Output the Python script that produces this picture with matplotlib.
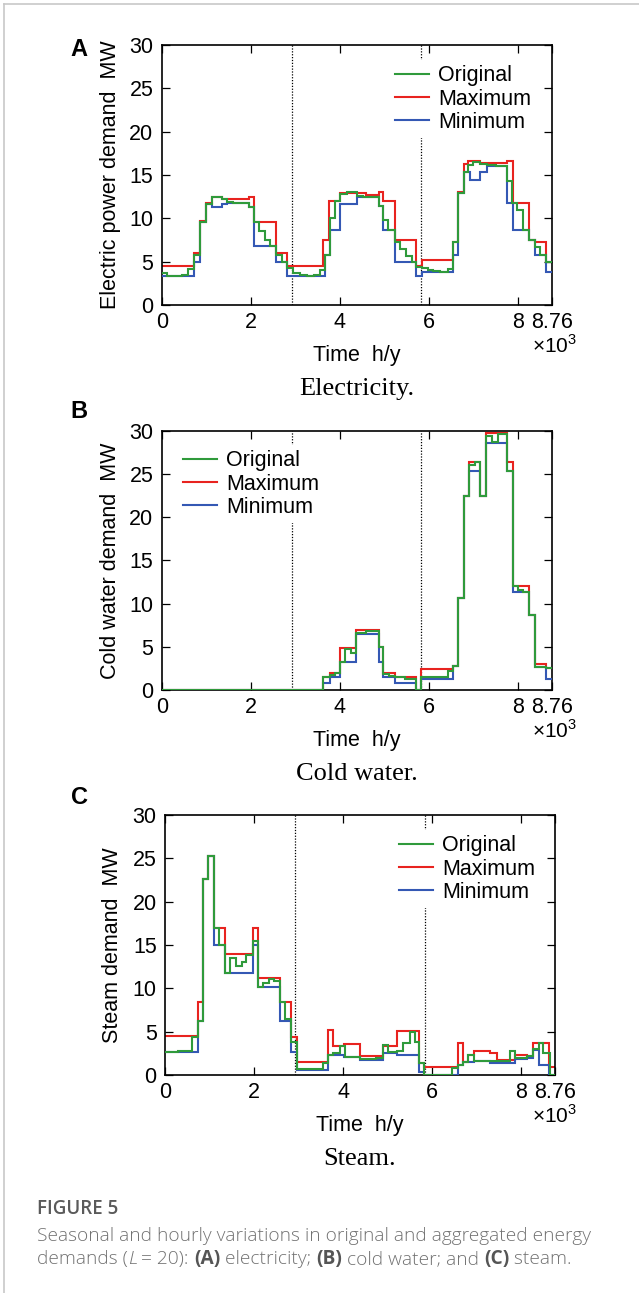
import matplotlib
matplotlib.use('Agg')
import matplotlib.pyplot as plt
from matplotlib.lines import Line2D

# time axis in thousands of hours, demand in MW
elec_orig_edges = [0, 0.11, 0.45, 0.60, 0.73, 0.86, 1.00, 1.12, 1.35, 1.46, 1.61, 1.95, 2.08, 2.19, 2.32,
                   2.43, 2.57, 2.70, 2.82, 2.96, 3.11, 3.26, 3.41, 3.56, 3.67, 3.78, 3.89, 4.01, 4.16, 4.38,
                   4.53, 4.87, 4.98, 5.09, 5.23, 5.35, 5.49, 5.62, 5.71, 5.84, 5.99, 6.10, 6.25, 6.44, 6.55,
                   6.66, 6.78, 6.89, 7.00, 7.15, 7.30, 7.52, 7.75, 7.86, 7.97, 8.12, 8.24, 8.39, 8.50, 8.63, 8.76]
elec_orig = [3.7, 3.4, 3.5, 4.2, 5.8, 9.6, 11.7, 12.5, 12.2, 11.9, 11.8, 11.3, 9.6, 8.5, 7.5,
             6.8, 5.8, 5.0, 4.3, 3.7, 3.5, 3.4, 3.5, 4.0, 5.8, 10.0, 12.0, 12.8, 13.0, 12.6,
             12.5, 11.4, 9.8, 8.7, 7.3, 6.5, 5.7, 5.0, 4.4, 4.3, 4.0, 3.9, 3.8, 4.2, 7.3,
             12.9, 15.3, 16.2, 16.5, 16.3, 16.2, 16.0, 14.3, 11.8, 11.0, 8.6, 7.5, 6.7, 5.8, 5.0]
elec_max_edges = [0, 0.73, 0.86, 1.00, 1.12, 1.35, 1.95, 2.08, 2.57, 2.82, 3.63, 3.76, 4.01, 4.60, 4.87,
                  4.98, 5.23, 5.71, 5.84, 6.55, 6.66, 6.78, 6.89, 7.15, 7.75, 7.90, 8.26, 8.39, 8.63, 8.76]
elec_max = [4.5, 6.0, 9.7, 11.8, 12.5, 12.2, 12.5, 9.6, 6.0, 4.5, 7.5, 12.0, 12.9, 12.7, 13.0,
            12.0, 7.5, 4.5, 5.2, 7.3, 13.0, 16.3, 16.6, 16.4, 16.6, 11.8, 7.5, 7.3, 5.0]
elec_min_edges = [0, 0.73, 0.86, 1.00, 1.12, 1.35, 1.46, 1.95, 2.08, 2.57, 2.82, 3.67, 3.78, 4.01, 4.38,
                  4.87, 4.98, 5.23, 5.71, 5.84, 6.55, 6.66, 6.78, 6.93, 7.15, 7.30, 7.75, 7.90, 8.26, 8.39,
                  8.63, 8.76]
elec_min = [3.3, 5.0, 9.6, 11.7, 11.3, 11.7, 11.8, 11.3, 6.8, 5.0, 3.3, 5.8, 8.7, 11.6, 12.5,
            11.4, 8.7, 5.0, 3.3, 3.8, 5.8, 12.9, 15.3, 14.4, 15.3, 16.0, 11.8, 8.6, 7.5, 5.8, 3.8]

cold_orig_edges = [0, 3.63, 3.78, 3.89, 4.01, 4.12, 4.25, 4.37, 4.60, 4.87, 4.98, 5.11, 5.23, 5.47, 5.71,
                   5.82, 6.44, 6.55, 6.66, 6.78, 6.91, 7.04, 7.15, 7.29, 7.41, 7.56, 7.76, 7.88, 8.01, 8.12,
                   8.26, 8.39, 8.63, 8.76]
cold_orig = [0, 1.5, 1.7, 2.0, 3.2, 4.7, 4.3, 6.6, 6.8, 5.0, 1.8, 1.6, 1.5, 1.3, 0,
             1.5, 2.2, 2.8, 10.7, 22.4, 26.0, 26.4, 22.4, 29.4, 28.7, 29.6, 25.3, 12.0, 11.6, 11.3,
             8.7, 2.7, 2.5]
cold_agg_edges = [0, 3.63, 3.78, 4.01, 4.37, 4.87, 4.98, 5.23, 5.71, 5.82, 6.55, 6.66, 6.78, 6.91, 7.15,
                  7.29, 7.76, 7.88, 8.26, 8.39, 8.63, 8.76]
cold_max = [0, 1.5, 2.0, 4.9, 6.9, 5.0, 2.0, 1.5, 0, 2.4, 2.8, 10.7, 22.4, 26.4, 22.4,
            29.7, 26.4, 12.0, 8.7, 3.0, 2.5]
cold_min = [0, 0.8, 1.5, 3.2, 6.5, 3.2, 1.5, 0.8, 0, 1.3, 2.8, 10.7, 22.4, 25.3, 22.4,
            28.6, 25.3, 11.3, 8.7, 2.7, 1.3]

steam_orig_edges = [0, 0.30, 0.60, 0.75, 0.86, 0.97, 1.11, 1.22, 1.35, 1.47, 1.59, 1.72, 1.83, 1.97, 2.08,
                    2.21, 2.34, 2.45, 2.58, 2.70, 2.82, 2.96, 3.54, 3.67, 3.78, 3.92, 4.04, 4.38, 4.75, 4.89,
                    5.02, 5.20, 5.35, 5.50, 5.62, 5.71, 5.82, 6.44, 6.59, 6.70, 6.81, 6.93, 7.75, 7.86, 8.12,
                    8.26, 8.39, 8.50, 8.65, 8.76]
steam_orig = [2.7, 2.8, 4.4, 6.2, 22.6, 25.3, 17.0, 15.0, 11.8, 13.5, 12.6, 13.0, 13.9, 15.5, 10.2,
              10.6, 11.1, 10.8, 8.4, 6.5, 3.8, 0.7, 1.4, 2.3, 2.5, 3.3, 2.1, 1.9, 2.0, 3.5,
              2.6, 2.8, 3.7, 5.0, 3.8, 1.4, 0.0, 0.8, 1.2, 1.5, 2.3, 1.6, 2.8, 2.0, 2.2,
              3.0, 3.7, 2.5, 0.0]
steam_max_edges = [0, 0.75, 0.86, 0.97, 1.11, 1.35, 1.97, 2.08, 2.58, 2.82, 2.96, 3.67, 3.77, 4.03, 4.38,
                   4.89, 5.22, 5.71, 5.82, 6.57, 6.69, 6.81, 6.93, 7.30, 7.45, 7.86, 8.14, 8.26, 8.63, 8.76]
steam_max = [4.5, 8.4, 22.6, 25.3, 17.0, 14.0, 17.0, 11.2, 8.4, 4.4, 1.5, 5.2, 3.3, 3.6, 2.2,
             3.3, 5.1, 1.4, 0.9, 3.7, 1.5, 2.3, 2.8, 2.5, 1.7, 2.3, 2.2, 3.7, 0.9]
steam_min_edges = [0, 0.75, 0.86, 0.97, 1.11, 1.35, 1.97, 2.08, 2.58, 2.82, 2.96, 3.67, 4.03, 4.38, 4.89,
                   5.22, 5.71, 5.82, 6.57, 6.69, 6.93, 7.30, 7.86, 8.14, 8.26, 8.39, 8.63, 8.76]
steam_min = [2.7, 6.2, 22.6, 25.3, 15.0, 11.8, 15.0, 10.2, 6.2, 2.7, 0.6, 2.3, 2.1, 1.7, 2.5,
             2.3, 0.4, 0.0, 1.2, 1.5, 1.6, 1.4, 1.9, 2.0, 2.9, 1.1, 0.0]

season_marks = [2.92, 5.83]
x_ticks = [0, 2, 4, 6, 8, 8.76]
x_ticklabels = ['0', '2', '4', '6', '8', '8.76']
y_ticks = [0, 5, 10, 15, 20, 25, 30]
series_names = ['Original', 'Maximum', 'Minimum']

GREEN = '#2f9a3b'
RED = '#e8231f'
BLUE = '#3458b4'
FS = 15.5

W, H = 639, 1293
plt.rcParams['font.family'] = ['Liberation Sans', 'DejaVu Sans']
plt.rcParams['mathtext.fontset'] = 'custom'
plt.rcParams['mathtext.rm'] = 'Liberation Sans'
fig = plt.figure(figsize=(W / 100, H / 100), dpi=100)


def fx(px):
    return px / W


def fy(py):
    return 1 - py / H


panels = [
    dict(box=(161.7, 45, 551.7, 305), letter='A', letter_pos=(79, 49), title='Electricity.',
         ylabel='Electric power demand  MW', ylab_x=110,
         orig=(elec_orig, elec_orig_edges), mx=(elec_max, elec_max_edges), mn=(elec_min, elec_min_edges),
         leg=(395, 60)),
    dict(box=(161.7, 430.7, 551.7, 690), letter='B', letter_pos=(79, 411), title='Cold water.',
         ylabel='Cold water demand  MW', ylab_x=110,
         orig=(cold_orig, cold_orig_edges), mx=(cold_max, cold_agg_edges), mn=(cold_min, cold_agg_edges),
         leg=(183, 445)),
    dict(box=(165, 815, 555, 1075), letter='C', letter_pos=(79, 797), title='Steam.',
         ylabel='Steam demand  MW', ylab_x=113,
         orig=(steam_orig, steam_orig_edges), mx=(steam_max, steam_max_edges), mn=(steam_min, steam_min_edges),
         leg=(399, 830)),
]

for p in panels:
    x0, y0, x1, y1 = p['box']
    ax = fig.add_axes([fx(x0), fy(y1), fx(x1 - x0), (y1 - y0) / H])
    pw, ph = x1 - x0, y1 - y0

    for xm in season_marks:
        ax.axvline(xm, color='k', ls=(0, (1, 1.3)), lw=0.9, zorder=1)

    ax.stairs(p['mx'][0], p['mx'][1], baseline=None, color=RED, lw=1.5, zorder=2)
    ax.stairs(p['mn'][0], p['mn'][1], baseline=None, color=BLUE, lw=1.5, zorder=3)
    ax.stairs(p['orig'][0], p['orig'][1], baseline=None, color=GREEN, lw=1.5, zorder=4)

    ax.set_xlim(0, 8.76)
    ax.set_ylim(0, 30)
    ax.set_xticks(x_ticks)
    ax.set_xticklabels(x_ticklabels)
    ax.set_yticks(y_ticks)
    ax.tick_params(direction='in', length=6, width=0.9, top=True, right=True, labelsize=FS)
    ax.tick_params(axis='x', pad=5)
    ax.tick_params(axis='y', pad=6)
    for s in ax.spines.values():
        s.set_linewidth(1.2)

    ax.set_ylabel(p['ylabel'], fontsize=FS)
    ax.yaxis.label.set_va('center')
    ax.yaxis.set_label_coords((p['ylab_x'] - x0) / pw, 0.5)
    ax.set_xlabel('Time  h/y', fontsize=FS)
    ax.xaxis.label.set_va('center')
    ax.xaxis.set_label_coords(0.5, -51 / ph)

    fig.text(fx(577), fy(y1 + 48), '×10$^3$', fontsize=FS - 0.5, ha='right', va='baseline')
    fig.text(fx((x0 + x1) / 2), fy(y1 + 84), p['title'], fontsize=19,
             family='Liberation Serif', ha='center', va='center')
    fig.text(fx(p['letter_pos'][0]), fy(p['letter_pos'][1]), p['letter'], fontsize=17,
             fontweight='bold', ha='center', va='center')

    handles = [Line2D([], [], color=c, lw=1.5) for c in (GREEN, RED, BLUE)]
    lx, ly = p['leg']
    leg = ax.legend(handles, series_names, loc='upper left', fontsize=FS,
                    bbox_to_anchor=((lx - 5 - x0) / pw, 1 - (ly - y0) / ph),
                    borderaxespad=0, borderpad=0.25, handlelength=1.55, handletextpad=0.42,
                    labelspacing=0.1, frameon=True, fancybox=False, framealpha=1)
    leg.get_frame().set_edgecolor('none')
    leg.get_frame().set_facecolor('white')

# thin page border
fig.add_artist(Line2D([fx(4), 1], [fy(4), fy(4)], color='#c8c8c8', lw=1.2))
fig.add_artist(Line2D([fx(4), fx(4)], [fy(4), 0], color='#c8c8c8', lw=1.2))

# caption
renderer = fig.canvas.get_renderer()
cap_font = dict(family=['Open Sans', 'DejaVu Sans'], fontsize=13.8, color='#727272', fontweight='light')
fig.text(fx(37), fy(1214), 'FIGURE 5', family=['Open Sans', 'DejaVu Sans'], fontsize=13.5,
         color='#5a5a5a', fontweight='semibold', va='baseline')


def caption_line(x_px, y_px, parts):
    x = x_px
    for txt, extra in parts:
        kw = dict(cap_font)
        kw.update(extra)
        t = fig.text(fx(x), fy(y_px), txt, va='baseline', ha='left', **kw)
        x += t.get_window_extent(renderer).width


caption_line(37, 1241, [('Seasonal and hourly variations in original and aggregated energy', {})])
caption_line(37, 1264, [('demands (', {}), ('L', {'style': 'italic'}), (' = 20): ', {}),
                        ('(A)', {'fontweight': 'bold', 'color': '#555555'}), (' electricity; ', {}),
                        ('(B)', {'fontweight': 'bold', 'color': '#555555'}), (' cold water; and ', {}),
                        ('(C)', {'fontweight': 'bold', 'color': '#555555'}), (' steam.', {})])

fig.savefig('out.png', dpi=100)
